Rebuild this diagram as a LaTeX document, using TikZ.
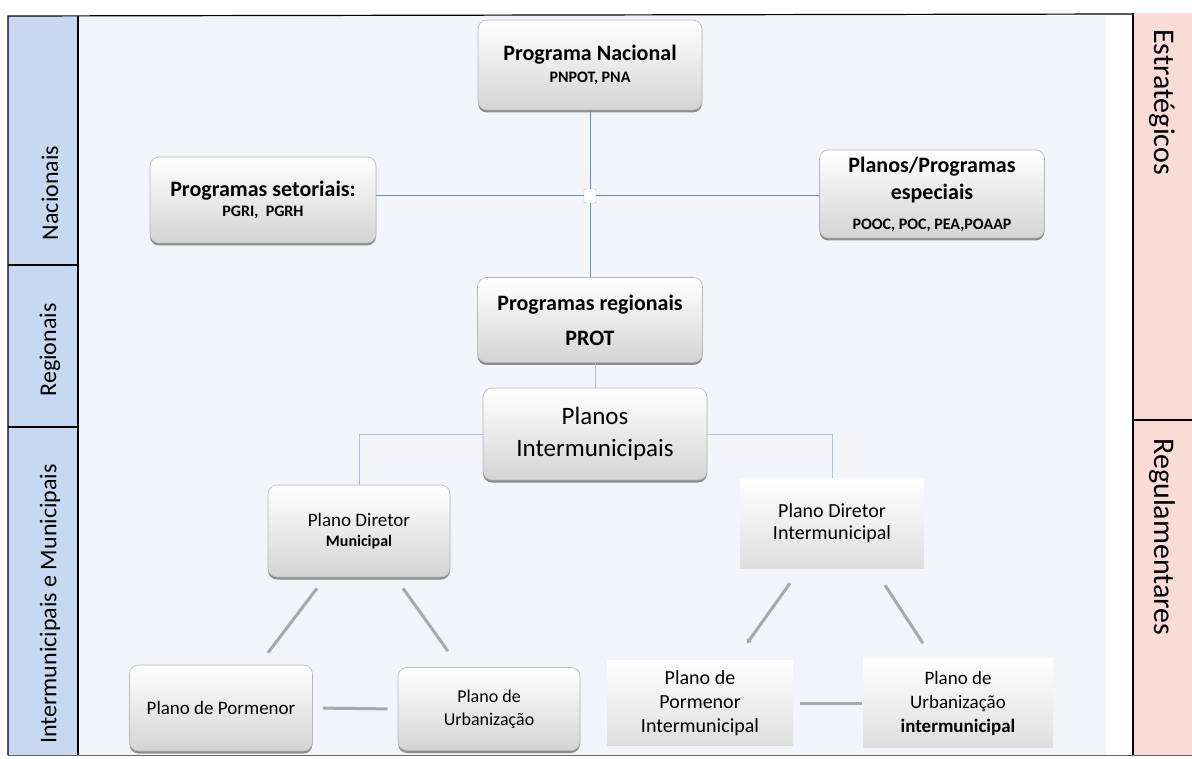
\documentclass[tikz,border=0pt]{standalone}
\usepackage{fontspec}
\setmainfont{Carlito}
\usetikzlibrary{shadows,calc,arrows.meta}
\definecolor{barblue}{HTML}{C6D9F0}
\definecolor{barpink}{HTML}{F9DCD6}
\definecolor{bgmain}{HTML}{F3F4F9}
\definecolor{linkblue}{HTML}{6B8CB0}
\definecolor{linklight}{HTML}{AFC1D8}
\definecolor{diag}{HTML}{A8A8A8}
\newcommand\fTitle{\fontsize{22}{26}\selectfont\bfseries}
\newcommand\fSub{\fontsize{16}{20}\selectfont\bfseries}
\newcommand\fBig{\fontsize{25}{32}\selectfont}
\newcommand\fMid{\fontsize{20}{24}\selectfont}
\newcommand\fNorm{\fontsize{19}{23}\selectfont}
\newcommand\fSmall{\fontsize{18}{22}\selectfont}
\newcommand\fBarL{\fontsize{24}{27}\selectfont}
\newcommand\fBarR{\fontsize{30}{34}\selectfont}
\begin{document}
\begin{tikzpicture}[x=1pt,y=-1pt,
  box/.style={rounded corners=9pt, draw=black!28, line width=0.6pt,
    top color=white, middle color=white, bottom color=black!17,
    drop shadow={shadow xshift=0pt, shadow yshift=-2.5pt, opacity=0.5, fill=black!85},
    align=center, inner sep=2pt, text=black},
  flatbox/.style={top color=white, middle color=white, bottom color=black!13,
    align=center, inner sep=2pt, text=black},
  bluelink/.style={draw=linkblue, line width=1pt},
  lightlink/.style={draw=linklight, line width=1pt},
  graylink/.style={draw=black!25, line width=1pt},
  diagline/.style={draw=diag, line width=3pt},
  junc/.style={draw=black!30, fill=white, minimum width=12pt, minimum height=14pt, inner sep=0pt, rounded corners=1pt},
  barlabel/.style={inner sep=0pt, text=black}
]
\useasboundingbox (0,0) rectangle (1192,759);
\fill[white] (0,0) rectangle (1192,759);
% background bands
\fill[bgmain] (78,16) rectangle (1133,755);
\fill[white] (1106,16) rectangle (1133,755);
\fill[barblue] (8,16) rectangle (78,755);
\fill[barpink] (1133,13) rectangle (1192,755);
\draw[line width=1.2pt] (8,755) -- (8,16) -- (1133,14);
\draw[line width=1.2pt] (78,16) -- (78,755);
\draw[line width=1.2pt] (8,265) -- (78,265);
\draw[line width=1.2pt] (8,427) -- (78,427);
\draw[line width=1.2pt] (1133,13) -- (1133,755);
\draw[line width=1.2pt] (1133,420) -- (1192,420);
\draw[line width=1pt, draw=black!60] (8,755) -- (1192,755);

% side labels
\node[barlabel, rotate=90] (lnac) at (50,193) {\fBarL Nacionais};
\node[barlabel, rotate=90] (lreg) at (50,350) {\fBarL Regionais};
\node[barlabel, rotate=90] (lint) at (50,604) {\fBarL Intermunicipais e Municipais};
\node[barlabel, rotate=-90] (lest) at (1162,102) {\fBarR Estratégicos};
\node[barlabel, rotate=-90] (lregu) at (1162,537) {\fBarR Regulamentares};

% nodes
\node[box, font=\fTitle, minimum width=224pt, minimum height=90pt] (nac) at (590,65)
  {Programa Nacional\\[-4pt]{\fSub PNPOT, PNA}};
\node[box, font=\fTitle, minimum width=226pt, minimum height=86pt] (set) at (263,200)
  {Programas setoriais:\\[-6pt]{\fSub PGRI,~ PGRH}};
\node[box, font=\fTitle, minimum width=225pt, minimum height=88pt] (esp) at (932,194)
  {Planos/Programas\\[1pt]especiais\\[4pt]{\fSub POOC, POC, PEA,POAAP}};
\node[junc] (j) at (590,196) {};
\node[box, font=\fTitle, minimum width=225pt, minimum height=85pt] (reg) at (590,320)
  {Programas regionais\\[9pt]PROT};
\node[box, font=\fBig, minimum width=224pt, minimum height=92pt] (pim) at (595,434)
  {Planos\\Intermunicipais};
\node[box, font=\fNorm, minimum width=182pt, minimum height=92pt] (pdm) at (359,531)
  {Plano Diretor\\[-3pt]{\fontsize{16}{19}\selectfont\bfseries Municipal}};
\node[flatbox, font=\fMid, minimum width=183pt, minimum height=90pt] (pdi) at (832,523)
  {Plano Diretor\\[-2pt]Intermunicipal};
\node[box, font=\fNorm, minimum width=183pt, minimum height=86pt] (pp) at (221,708)
  {Plano de Pormenor};
\node[box, font=\fSmall, minimum width=182pt, minimum height=83pt] (pu) at (489,709)
  {Plano de\\[1pt]Urbanização};
\node[flatbox, font=\fMid, minimum width=186pt, minimum height=85pt] (ppi) at (700,703)
  {Plano de\\Pormenor\\Intermunicipal};
\node[flatbox, font=\fNorm, minimum width=190pt, minimum height=89pt] (pui) at (958,703)
  {Plano de\\[1pt]Urbanização\\[1pt]{\bfseries intermunicipal}};

% connectors
\draw[bluelink] (nac.south) -- (j.north);
\draw[bluelink] (j.south) -- (reg.north);
\draw[bluelink] (j.west) -- (j.west -| set.east);
\draw[bluelink] (j.east) -- (j.east -| esp.west);
\draw[graylink] (pim.north |- reg.south) -- (pim.north);
\draw[lightlink] (pim.west) -| (pdm.north);
\draw[lightlink] (pim.east) -| (pdi.north);
\draw[diagline] ($(pdm.south)+(-42,11)$) -- ($(pp.north)+(47,-12)$);
\draw[diagline] ($(pdm.south)+(44,11)$) -- ($(pu.north)+(-41,-16)$);
\draw[diagline, shorten <=10pt, shorten >=10pt] (pp.east) -- (pu.west);
\draw[diagline, -{Triangle[length=4pt,width=6pt]}] ($(pdi.south)+(-42,15)$) -- ($(ppi.north)+(47,-17)$);
\draw[diagline] ($(pdi.south)+(53,17)$) -- ($(pui.north)+(-35,-15)$);
\draw[diagline, shorten <=7pt, shorten >=1pt] (ppi.east) -- (pui.west);
\end{tikzpicture}
\end{document}
